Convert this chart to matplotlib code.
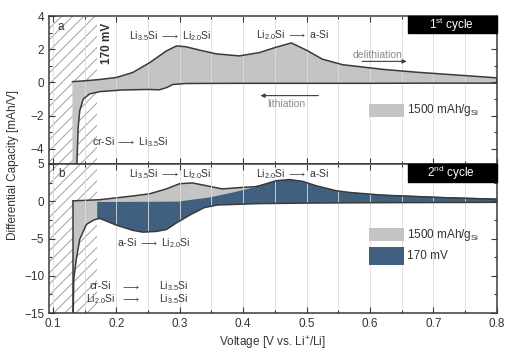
import numpy as np
import matplotlib
matplotlib.use('Agg')
import matplotlib.pyplot as plt
from matplotlib.patches import Rectangle

# Police proche d'Arial
plt.rcParams['font.family'] = ['Liberation Sans', 'DejaVu Sans']
plt.rcParams['mathtext.fontset'] = 'custom'
plt.rcParams['mathtext.rm'] = 'Liberation Sans'
plt.rcParams['mathtext.it'] = 'Liberation Sans'
plt.rcParams['hatch.linewidth'] = 0.7

# 1er cycle : delithiation (courbe haute) et lithiation (courbe basse)
v_delith1 = [0.131, 0.150, 0.174, 0.200, 0.226, 0.253, 0.279, 0.295, 0.310, 0.331,
             0.358, 0.394, 0.426, 0.450, 0.476, 0.500, 0.525, 0.557, 0.620, 0.673,
             0.725, 0.800]
dq_delith1 = [0.05, 0.10, 0.18, 0.30, 0.60, 1.20, 1.90, 2.20, 2.15, 1.95,
              1.72, 1.60, 1.80, 2.10, 2.38, 1.94, 1.40, 1.07, 0.79, 0.62,
              0.48, 0.28]
v_lith1 = [0.131, 0.137, 0.140, 0.1425, 0.148, 0.158, 0.174, 0.210, 0.250, 0.268,
           0.280, 0.289, 0.310, 0.400, 0.500, 0.600, 0.700, 0.800]
dq_lith1 = [-6.0, -6.0, -2.7, -1.7, -1.0, -0.69, -0.55, -0.45, -0.42, -0.44,
            -0.30, -0.12, -0.06, -0.05, -0.05, -0.05, -0.04, -0.04]

# 2e cycle (1500 mAh/g_Si)
v_delith2 = [0.132, 0.174, 0.226, 0.253, 0.279, 0.300, 0.320, 0.341, 0.367, 0.399,
             0.420, 0.450, 0.473, 0.500, 0.550, 0.600, 0.700, 0.800]
dq_delith2 = [0.05, 0.20, 0.70, 1.00, 1.65, 2.35, 2.45, 2.10, 1.65, 1.85,
              1.95, 2.50, 2.75, 2.30, 1.25, 0.85, 0.50, 0.25]
v_lith2 = [0.132, 0.133, 0.137, 0.1425, 0.153, 0.165, 0.174, 0.200, 0.226, 0.242,
           0.263, 0.279, 0.295, 0.318, 0.339, 0.360, 0.426, 0.500, 0.600, 0.800]
dq_lith2 = [-16.0, -10.5, -7.8, -5.1, -3.1, -2.5, -2.3, -3.2, -3.9, -4.15,
            -4.05, -3.8, -2.9, -1.76, -0.85, -0.50, -0.32, -0.25, -0.20, -0.15]

# 2e cycle (coupure a 170 mV)
v_delith170 = [0.170, 0.250, 0.300, 0.3105, 0.347, 0.384, 0.421, 0.452, 0.473, 0.494,
               0.515, 0.547, 0.568, 0.620, 0.673, 0.725, 0.800]
dq_delith170 = [-0.10, -0.08, -0.05, 0.10, 0.50, 1.17, 1.94, 2.75, 2.90, 2.66,
                2.07, 1.40, 1.17, 0.81, 0.63, 0.45, 0.27]
v_lith170 = [0.170, 0.174, 0.200, 0.226, 0.242, 0.263, 0.279, 0.295, 0.318, 0.339,
             0.360, 0.426, 0.500, 0.600, 0.800]
dq_lith170 = [-2.35, -2.3, -3.2, -3.9, -4.15, -4.05, -3.8, -2.9, -1.76, -0.85,
              -0.50, -0.32, -0.25, -0.20, -0.15]

x_ticks = [0.1, 0.2, 0.3, 0.4, 0.5, 0.6, 0.7, 0.8]
y_ticks_a = [-4, -2, 0, 2, 4]
y_ticks_b = [-15, -10, -5, 0, 5]

GRIS = '#c4c4c4'
BLEU = '#41607f'
TRAIT = '#3a3a3a'
TEXTE = '#333333'


def boucle(v_haut, dq_haut, v_bas, dq_bas):
    """Polygone ferme : courbe haute puis courbe basse a l'envers"""
    x = np.r_[v_haut, v_bas[::-1]]
    y = np.r_[dq_haut, dq_bas[::-1]]
    return x, y


def style_axe(ax, yticks, ymin, ymax, ymineur):
    ax.set_xlim(0.094, 0.8)
    ax.set_ylim(ymin, ymax)
    ax.set_xticks(x_ticks)
    ax.set_xticks(np.arange(0.15, 0.8, 0.1), minor=True)
    ax.set_yticks(yticks)
    ax.set_yticks(ymineur, minor=True)
    ax.tick_params(which='both', direction='in', top=True, right=True,
                   colors=TRAIT, labelcolor=TEXTE, labelsize=8.5, width=0.8)
    ax.tick_params(which='major', length=4)
    ax.tick_params(which='minor', length=2.5)
    for s in ax.spines.values():
        s.set_color(TRAIT)
        s.set_linewidth(1.1)
    ax.set_axisbelow(False)
    ax.grid(True, axis='x', which='both', color='#dcdcdc', lw=0.6)
    # zone hachuree sous 170 mV
    ax.axvspan(0.094, 0.17, fill=False, hatch='///', edgecolor='#a0a0a0', lw=0, zorder=0)


def boite_cycle(ax, texte, y0, y1):
    ax.add_patch(Rectangle((0.66, y0), 0.8 - 0.66, y1 - y0, facecolor='black',
                           edgecolor='black', zorder=5, clip_on=False))
    ax.text(0.728, (y0 + y1) / 2, texte, color='white', fontsize=8.5,
            ha='center', va='center', zorder=6)


def legende(ax, couleur, texte, y0, y1):
    ax.add_patch(Rectangle((0.599, y0), 0.055, y1 - y0, facecolor=couleur,
                           edgecolor='none', zorder=5))
    ax.text(0.658, (y0 + y1) / 2, texte, color=TEXTE, fontsize=8.5,
            ha='left', va='center', zorder=6)


def main():
    fig = plt.figure(figsize=(5.05, 3.51), dpi=100)
    ax_a = fig.add_axes([0.097, 0.533, 0.887, 0.4214])
    ax_b = fig.add_axes([0.097, 0.108, 0.887, 0.425])

    # Panneau a : 1er cycle
    style_axe(ax_a, y_ticks_a, -4.9, 4, np.arange(-3, 4, 2))
    x, y = boucle(v_delith1, dq_delith1, v_lith1, dq_lith1)
    ax_a.fill(x, y, color=GRIS, lw=0, zorder=1)
    ax_a.plot(x, y, color=TRAIT, lw=1.1, zorder=3)
    ax_a.tick_params(labelbottom=False)

    ax_a.text(0.108, 3.35, 'a', fontsize=8.5, color=TEXTE, va='center')
    ax_a.text(0.185, 2.35, '170 mV', rotation=90, fontsize=8.5, color=TEXTE,
              fontweight='bold', ha='center', va='center')
    ax_a.text(0.285, 2.8, r'Li$_{3.5}$Si $\longrightarrow$ Li$_{2.0}$Si', fontsize=7.5,
              color=TEXTE, ha='center', va='center')
    ax_a.text(0.478, 2.85, r'Li$_{2.0}$Si $\longrightarrow$ a-Si', fontsize=7.5,
              color=TEXTE, ha='center', va='center')
    ax_a.text(0.221, -3.6, r'cr-Si $\longrightarrow$ Li$_{3.5}$Si', fontsize=7.5,
              color=TEXTE, ha='center', va='center')
    ax_a.text(0.612, 1.64, 'delithiation', fontsize=7.5, color='#8a8a8a',
              ha='center', va='center')
    ax_a.annotate('', xy=(0.662, 1.27), xytext=(0.583, 1.27),
                  arrowprops=dict(arrowstyle='-|>', color=TRAIT, lw=0.8,
                                  mutation_scale=6))
    ax_a.text(0.468, -1.3, 'lithiation', fontsize=7.5, color='#8a8a8a',
              ha='center', va='center')
    ax_a.annotate('', xy=(0.423, -0.79), xytext=(0.523, -0.79),
                  arrowprops=dict(arrowstyle='-|>', color=TRAIT, lw=0.8,
                                  mutation_scale=6))
    boite_cycle(ax_a, r'1$^{st}$ cycle', 2.95, 4)
    legende(ax_a, GRIS, r'1500 mAh/g$_{Si}$', -2.06, -1.29)

    # Panneau b : 2e cycle
    style_axe(ax_b, y_ticks_b, -15, 5, np.arange(-12.5, 5, 5))
    x, y = boucle(v_delith2, dq_delith2, v_lith2, dq_lith2)
    ax_b.fill(x, y, color=GRIS, lw=0, zorder=1)
    ax_b.plot(v_delith2, dq_delith2, color=TRAIT, lw=1.1, zorder=1.5)
    ax_b.plot([v_delith2[0], v_lith2[0]], [dq_delith2[0], dq_lith2[0]],
              color=TRAIT, lw=1.1, zorder=3)
    x, y = boucle(v_delith170, dq_delith170, v_lith170, dq_lith170)
    ax_b.fill(x, y, color=BLEU, lw=0, zorder=2)
    ax_b.plot(v_delith170[6:], dq_delith170[6:], color=TRAIT, lw=1.1, zorder=3)
    ax_b.plot(v_lith2, dq_lith2, color=TRAIT, lw=1.1, zorder=3)

    ax_b.text(0.108, 3.65, 'b', fontsize=8.5, color=TEXTE, va='center')
    ax_b.text(0.285, 3.65, r'Li$_{3.5}$Si $\longrightarrow$ Li$_{2.0}$Si', fontsize=7.5,
              color=TEXTE, ha='center', va='center')
    ax_b.text(0.478, 3.65, r'Li$_{2.0}$Si $\longrightarrow$ a-Si', fontsize=7.5,
              color=TEXTE, ha='center', va='center')
    ax_b.text(0.259, -5.6, r'a-Si $\longrightarrow$ Li$_{2.0}$Si', fontsize=7.5,
              color=TEXTE, ha='center', va='center')
    for yy, gauche in [(-11.4, 'cr-Si'), (-13.1, r'Li$_{2.0}$Si')]:
        ax_b.text(0.175, yy, gauche, fontsize=7.5, color=TEXTE, ha='center', va='center')
        ax_b.text(0.223, yy, r'$\longrightarrow$', fontsize=7.5, color=TEXTE,
                  ha='center', va='center')
        ax_b.text(0.29, yy, r'Li$_{3.5}$Si', fontsize=7.5, color=TEXTE,
                  ha='center', va='center')
    boite_cycle(ax_b, r'2$^{nd}$ cycle', 2.6, 5)
    legende(ax_b, GRIS, r'1500 mAh/g$_{Si}$', -5.36, -3.65)
    legende(ax_b, BLEU, '170 mV', -8.5, -6.2)

    ax_b.set_xlabel(r'Voltage [V vs. Li$^{+}$/Li]', fontsize=8.5, color=TEXTE, labelpad=3)
    fig.text(0.025, 0.53, 'Differential Capacity [mAh/V]', rotation=90,
             fontsize=8.5, color=TEXTE, ha='center', va='center')

    fig.savefig('out.png', dpi=100)


if __name__ == "__main__":
    main()
